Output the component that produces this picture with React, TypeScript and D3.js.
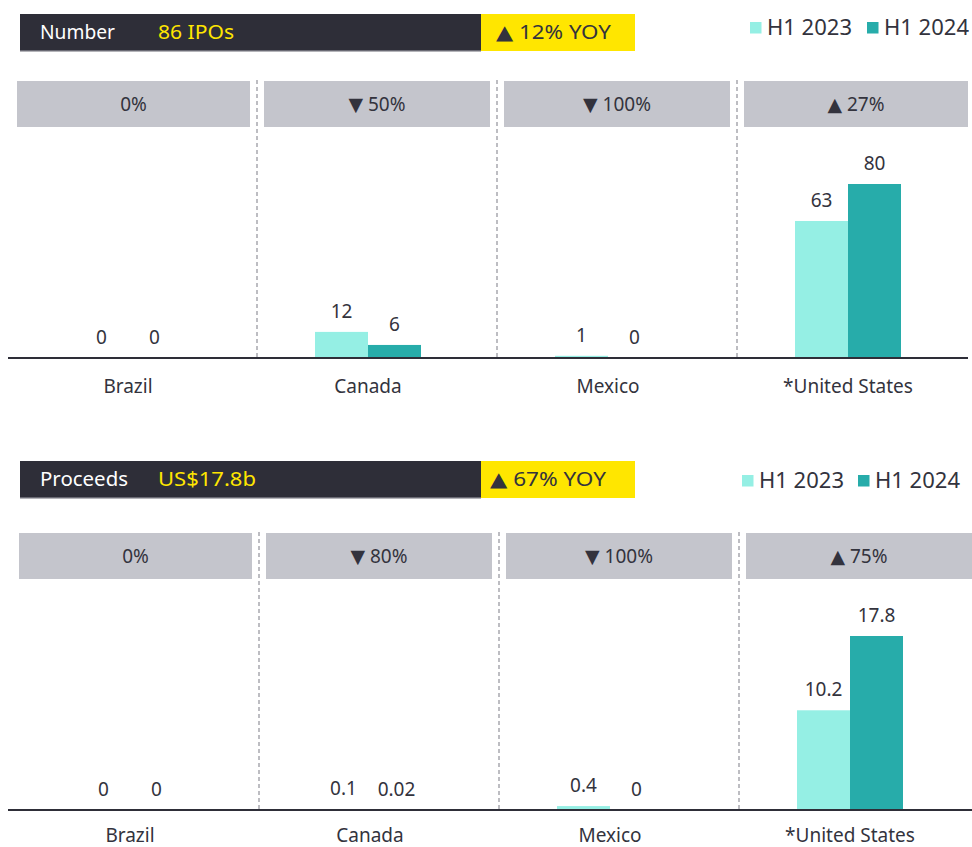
import React from "react";
import * as d3 from "d3";

const categories = ["Brazil", "Canada", "Mexico", "*United States"];
const seriesNames = ["H1 2023", "H1 2024"];

const numberH1_2023 = [0, 12, 1, 63];
const numberH1_2024 = [0, 6, 0, 80];
const numberChangeDir = ["", "down", "down", "up"];
const numberChangePct = ["0%", "50%", "100%", "27%"];

const proceedsH1_2023 = [0, 0.1, 0.4, 10.2];
const proceedsH1_2024 = [0, 0.02, 0, 17.8];
const proceedsChangeDir = ["", "down", "down", "up"];
const proceedsChangePct = ["0%", "80%", "100%", "75%"];

const headerTitles = ["Number", "Proceeds"];
const headerTotals = ["86 IPOs", "US$17.8b"];
const headerYoY = ["12% YOY", "67% YOY"];

const COLORS = {
  dark: "#2e2e38",
  yellow: "#ffe600",
  gray: "#c4c5cc",
  light: "#95efe4",
  teal: "#27acaa",
  text: "#33333d",
  divider: "#9a9aa2",
};

const FONT = "'Noto Sans', 'DejaVu Sans', sans-serif";

type PanelProps = {
  top: number;
  dx: number;
  dy: number;
  legendDy: number;
  labelDy: number;
  title: string;
  total: string;
  yoy: string;
  v23: number[];
  v24: number[];
  dirs: string[];
  pcts: string[];
  legendX: number[];
  titleLen: number;
  totalLen: number;
  yoyX: number;
  yoyLen: number;
  rightEdge: number;
};

function arrow(dir: string) {
  if (dir === "up") return "▲ ";
  if (dir === "down") return "▼ ";
  return "";
}

function Panel(p: PanelProps) {
  const baseline = p.top + p.dy + 344;
  const boxTop = p.top + p.dy + 67;
  const x0 = d3.scaleBand<string>().domain(categories).range([8 + p.dx, 968 + p.dx]);
  const bw = x0.bandwidth();
  const inner = d3
    .scaleBand<string>()
    .domain(seriesNames)
    .range([0, bw])
    .paddingInner(0)
    .paddingOuter((bw / 53 - 2) / 2);
  const maxV = Math.max(...p.v23, ...p.v24);
  const y = d3.scaleLinear().domain([0, maxV]).range([baseline, baseline - 174]);
  const dividers = categories.slice(1).map((c) => (x0(c) as number) + 9);
  const series = [p.v23, p.v24];
  const colors = [COLORS.light, COLORS.teal];
  const fmt = (v: number) => String(v);

  return (
    <g>
      {/* header */}
      <rect x={20} y={p.top} width={461} height={37} fill={COLORS.dark} />
      <rect x={20} y={p.top + 36} width={461} height={1.5} fill="#6a6a74" />
      <rect x={481} y={p.top} width={154} height={37} fill={COLORS.yellow} />
      <text x={40} y={p.top + 25} fill="#fff" fontSize={20} fontFamily={FONT} textLength={p.titleLen} lengthAdjust="spacingAndGlyphs">
        {p.title}
      </text>
      <text x={158} y={p.top + 25} fill={COLORS.yellow} fontSize={20} fontFamily={FONT} textLength={p.totalLen} lengthAdjust="spacingAndGlyphs">
        {p.total}
      </text>
      <text x={p.yoyX} y={p.top + 25} fill={COLORS.text} fontSize={20} fontFamily={FONT} textLength={p.yoyLen} lengthAdjust="spacingAndGlyphs">
        {"▲ " + p.yoy}
      </text>
      {/* legend */}
      {seriesNames.map((s, i) => (
        <g key={s}>
          <rect x={p.legendX[i]} y={p.top + p.legendDy + 8} width={11.5} height={11.5} fill={colors[i]} />
          <text x={p.legendX[i] + 17} y={p.top + p.legendDy + 21} fill={COLORS.text} fontSize={21} fontFamily={FONT} textLength={85} lengthAdjust="spacingAndGlyphs">
            {s}
          </text>
        </g>
      ))}
      {/* change boxes */}
      {categories.map((c, i) => {
        const bx0 = i === 0 ? (x0(c) as number) + 9 : dividers[i - 1] + 7;
        const bx1 = i === categories.length - 1 ? p.rightEdge : dividers[i] - 7;
        const cx = (bx0 + bx1) / 2;
        return (
          <g key={c}>
            <rect x={bx0} y={boxTop} width={bx1 - bx0} height={46} fill={COLORS.gray} />
            <text x={cx} y={boxTop + 30} textAnchor="middle" fill={COLORS.text} fontSize={19} fontFamily={FONT}>
              {arrow(p.dirs[i]) + p.pcts[i]}
            </text>
          </g>
        );
      })}
      {/* dividers */}
      {dividers.map((d, i) => (
        <line key={i} x1={d} x2={d} y1={boxTop - 1} y2={baseline} stroke={COLORS.divider} strokeWidth={1.3} strokeDasharray="4,3" />
      ))}
      {/* bars */}
      {categories.map((c, i) => (
        <g key={c} transform={`translate(${x0(c)},0)`}>
          {seriesNames.map((s, j) => {
            const v = series[j][i];
            const bx = inner(s) as number;
            return (
              <g key={s}>
                <rect x={bx} y={y(v)} width={inner.bandwidth()} height={baseline - y(v)} fill={colors[j]} />
                <text x={bx + inner.bandwidth() / 2} y={y(v) - 14} textAnchor="middle" fill={COLORS.text} fontSize={19} fontFamily={FONT}>
                  {fmt(v)}
                </text>
              </g>
            );
          })}
        </g>
      ))}
      {/* baseline */}
      <line x1={8} x2={p.rightEdge} y1={baseline} y2={baseline} stroke={COLORS.dark} strokeWidth={2} />
      {/* category labels */}
      {categories.map((c) => (
        <text key={c} x={(x0(c) as number) + bw / 2} y={baseline + p.labelDy} textAnchor="middle" fill={COLORS.text} fontSize={19} fontFamily={FONT}>
          {c}
        </text>
      ))}
    </g>
  );
}

export default function App() {
  return (
    <svg width={972} height={847} style={{ position: "absolute", left: 0, top: 0, background: "#fff" }}>
      <Panel
        top={14}
        dx={0}
        dy={0}
        legendDy={0}
        labelDy={35}
        title={headerTitles[0]}
        total={headerTotals[0]}
        yoy={headerYoY[0]}
        v23={numberH1_2023}
        v24={numberH1_2024}
        dirs={numberChangeDir}
        pcts={numberChangePct}
        legendX={[750, 867]}
        titleLen={75}
        totalLen={76}
        yoyX={496}
        yoyLen={115}
        rightEdge={968}
      />
      <Panel
        top={461}
        dx={2}
        dy={5}
        legendDy={6}
        labelDy={32}
        title={headerTitles[1]}
        total={headerTotals[1]}
        yoy={headerYoY[1]}
        v23={proceedsH1_2023}
        v24={proceedsH1_2024}
        dirs={proceedsChangeDir}
        pcts={proceedsChangePct}
        legendX={[742, 858]}
        titleLen={88}
        totalLen={98}
        yoyX={490}
        yoyLen={116}
        rightEdge={972}
      />
    </svg>
  );
}
